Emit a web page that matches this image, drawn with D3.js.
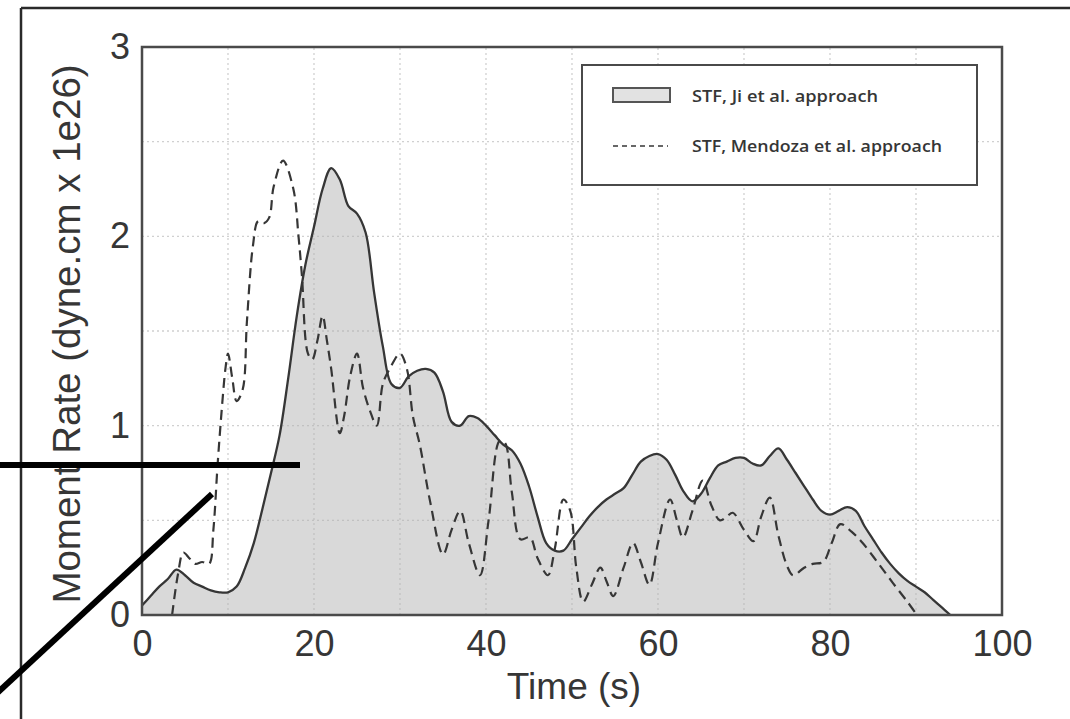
<!DOCTYPE html>
<html>
<head>
<meta charset="utf-8">
<script src="https://cdn.jsdelivr.net/npm/d3@7"></script>
<style>
  html, body { margin: 0; padding: 0; background: #fff; }
  svg { display: block; }
</style>
</head>
<body>
<svg id="chart" width="1070" height="719"></svg>
<script>
// Source time functions: moment rate (dyne.cm x 1e26) versus time (s)
const jiTime = [0,1,2,3,4,5,6,7,8,9,10,11,12,13,14,15,16,17,18,19,20,21,22,23,24,25,26,27,28,29,30,
  31,32,33,34,35,36,37,38,39,40,41,42,43,44,45,46,47,48,49,50,51,52,53,54,55,56,57,58,59,60,
  61,62,63,64,65,66,67,68,69,70,71,72,73,74,75,76,77,78,79,80,81,82,83,84,85,86,87,88,89,90,91,92,93,94];
const jiRate = [0.05,0.10,0.15,0.19,0.24,0.21,0.17,0.15,0.13,0.12,0.12,0.15,0.25,0.38,0.56,0.75,0.95,1.25,1.58,1.85,2.05,
  2.25,2.36,2.30,2.16,2.12,2.02,1.70,1.42,1.22,1.20,1.26,1.29,1.30,1.28,1.18,1.02,1.00,1.05,1.04,1.00,
  0.95,0.90,0.87,0.80,0.68,0.52,0.38,0.34,0.34,0.40,0.46,0.52,0.57,0.61,0.64,0.67,0.74,0.81,0.84,0.85,
  0.82,0.74,0.65,0.60,0.64,0.72,0.79,0.81,0.83,0.83,0.80,0.79,0.84,0.88,0.82,0.75,0.68,0.61,0.55,0.53,
  0.55,0.57,0.55,0.47,0.40,0.33,0.27,0.22,0.18,0.15,0.12,0.08,0.04,0.00];

const mendozaTime = [3.5,4.2,4.8,5.5,6.2,7.0,7.8,8.3,8.8,9.3,9.7,10.0,10.5,11.0,11.7,12.2,12.9,13.5,14.2,14.8,
  15.3,16.4,17.6,18.2,18.6,19.3,19.8,20.4,21.0,21.5,22.0,23.0,23.5,24.2,25.0,25.7,26.5,27.3,28.0,28.8,
  30.0,30.8,31.5,32.3,33.5,35.0,36.0,37.0,38.0,39.3,40.3,41.6,42.2,43.0,44.0,45.1,46.0,47.2,48.0,49.0,
  49.8,50.5,51.3,52.3,53.3,54.0,54.8,56.0,57.1,58.0,59.0,60.0,61.4,62.2,62.9,64.0,65.2,66.2,67.2,68.0,
  68.7,70.0,71.1,72.0,73.0,74.0,75.0,75.7,77.0,78.0,79.2,80.2,81.2,82.5,83.8,85.5,87.3,89.0,90.1];
const mendozaRate = [0.00,0.22,0.33,0.30,0.27,0.28,0.27,0.45,0.80,1.10,1.30,1.38,1.25,1.13,1.19,1.55,1.95,2.08,2.07,2.10,
  2.26,2.40,2.25,2.00,1.79,1.38,1.35,1.45,1.58,1.45,1.30,0.96,1.05,1.26,1.38,1.20,1.08,1.00,1.22,1.30,
  1.38,1.30,1.05,0.90,0.60,0.32,0.45,0.55,0.38,0.21,0.50,0.92,0.91,0.65,0.40,0.41,0.30,0.21,0.35,0.61,
  0.55,0.25,0.07,0.16,0.25,0.18,0.10,0.25,0.38,0.28,0.16,0.38,0.61,0.50,0.41,0.55,0.71,0.58,0.50,0.52,
  0.54,0.45,0.39,0.52,0.62,0.42,0.26,0.21,0.25,0.27,0.28,0.38,0.48,0.44,0.38,0.28,0.17,0.07,0.00];

const xTicks = [0, 20, 40, 60, 80, 100];
const yTicks = [0, 1, 2, 3];
const seriesNames = ["STF, Ji et al. approach", "STF, Mendoza et al. approach"];
const xTitle = "Time (s)";
const yTitle = "Moment Rate (dyne.cm x 1e26)";

const svg = d3.select("#chart");
const ink = "#363636";
const sans = "Liberation Sans, Arial, sans-serif";

const x = d3.scaleLinear().domain([0, 100]).range([142, 1002]);
const y = d3.scaleLinear().domain([0, 3]).range([615, 47]);

// outer page frame (top and left edges)
svg.append("line").attr("x1", 21).attr("y1", 8).attr("x2", 1070).attr("y2", 8)
  .attr("stroke", "#2a2a2a").attr("stroke-width", 2.5);
svg.append("line").attr("x1", 21).attr("y1", 8).attr("x2", 21).attr("y2", 719)
  .attr("stroke", "#2a2a2a").attr("stroke-width", 2.5);

svg.append("clipPath").attr("id", "plot-clip")
  .append("rect").attr("x", x(0)).attr("y", y(3)).attr("width", x(100) - x(0)).attr("height", y(0) - y(3));

const ji = jiTime.map((t, i) => [t, jiRate[i]]);
const mendoza = mendozaTime.map((t, i) => [t, mendozaRate[i]]);
const smooth = d3.curveCatmullRom.alpha(0.5);

const plot = svg.append("g").attr("clip-path", "url(#plot-clip)");

// shaded Ji et al. source time function
plot.append("path")
  .datum(ji)
  .attr("fill", "#d9d9d9")
  .attr("d", d3.area().curve(smooth).x(d => x(d[0])).y0(y(0)).y1(d => y(d[1])));

// dotted grid
const grid = plot.append("g").attr("stroke", "#b0b0b0").attr("stroke-opacity", 0.6)
  .attr("stroke-width", 1.3).attr("stroke-dasharray", "2,3");
grid.selectAll("line.v").data(d3.range(10, 100, 10)).join("line")
  .attr("x1", d => x(d)).attr("x2", d => x(d)).attr("y1", y(0)).attr("y2", y(3));
grid.selectAll("line.h").data(d3.range(0.5, 3, 0.5)).join("line")
  .attr("y1", d => y(d)).attr("y2", d => y(d)).attr("x1", x(0)).attr("x2", x(100));

plot.append("path")
  .datum(ji)
  .attr("fill", "none").attr("stroke", ink).attr("stroke-width", 2.3)
  .attr("d", d3.line().curve(smooth).x(d => x(d[0])).y(d => y(d[1])));

plot.append("path")
  .datum(mendoza)
  .attr("fill", "none").attr("stroke", ink).attr("stroke-width", 2.2)
  .attr("stroke-dasharray", "10,6")
  .attr("d", d3.line().curve(smooth).x(d => x(d[0])).y(d => y(d[1])));

// plot frame
svg.append("rect").attr("x", x(0)).attr("y", y(3)).attr("width", x(100) - x(0)).attr("height", y(0) - y(3))
  .attr("fill", "none").attr("stroke", "#4a4a4a").attr("stroke-width", 2.5);

// axes (labels only)
const xAxis = svg.append("g").attr("transform", `translate(0,${y(0)})`)
  .call(d3.axisBottom(x).tickValues(xTicks).tickSize(0).tickPadding(15).tickFormat(d3.format("d")));
xAxis.select(".domain").remove();
xAxis.selectAll("text").attr("font-family", sans).attr("font-size", 36).attr("fill", ink);

const yAxis = svg.append("g").attr("transform", `translate(${x(0)},0)`)
  .call(d3.axisLeft(y).tickValues(yTicks).tickSize(0).tickPadding(12).tickFormat(d3.format("d")));
yAxis.select(".domain").remove();
yAxis.selectAll("text").attr("font-family", sans).attr("font-size", 36).attr("fill", ink);

svg.append("text").attr("x", 574).attr("y", 699).attr("text-anchor", "middle")
  .attr("font-family", sans).attr("font-size", 37).attr("fill", ink)
  .text(xTitle);

svg.append("text").attr("transform", "translate(80,334) rotate(-90)").attr("text-anchor", "middle")
  .attr("font-family", sans).attr("font-size", 38.5).attr("fill", ink)
  .text(yTitle);

// legend
const legend = svg.append("g");
legend.append("rect").attr("x", 582).attr("y", 65).attr("width", 395).attr("height", 120)
  .attr("fill", "#fff").attr("stroke", "#4a4a4a").attr("stroke-width", 2);
legend.append("rect").attr("x", 613).attr("y", 88).attr("width", 57).attr("height", 14)
  .attr("fill", "#e2e2e2").attr("stroke", "#555").attr("stroke-width", 2);
legend.append("line").attr("x1", 613).attr("x2", 668).attr("y1", 146).attr("y2", 146)
  .attr("stroke", ink).attr("stroke-width", 1.5).attr("stroke-dasharray", "5,4");
legend.selectAll("text").data(seriesNames).join("text")
  .attr("x", 692).attr("y", (d, i) => 102 + i * 50)
  .attr("font-family", "Open Sans, sans-serif").attr("font-size", 16).attr("font-weight", 600)
  .attr("fill", ink)
  .attr("textLength", (d, i) => i === 0 ? 186 : 250).attr("lengthAdjust", "spacingAndGlyphs")
  .text(d => d);

// annotation strokes
svg.append("line").attr("x1", 0).attr("y1", 465).attr("x2", 300).attr("y2", 465)
  .attr("stroke", "#000").attr("stroke-width", 6);
svg.append("line").attr("x1", -4).attr("y1", 694).attr("x2", 212).attr("y2", 494)
  .attr("stroke", "#000").attr("stroke-width", 6);
</script>
</body>
</html>
